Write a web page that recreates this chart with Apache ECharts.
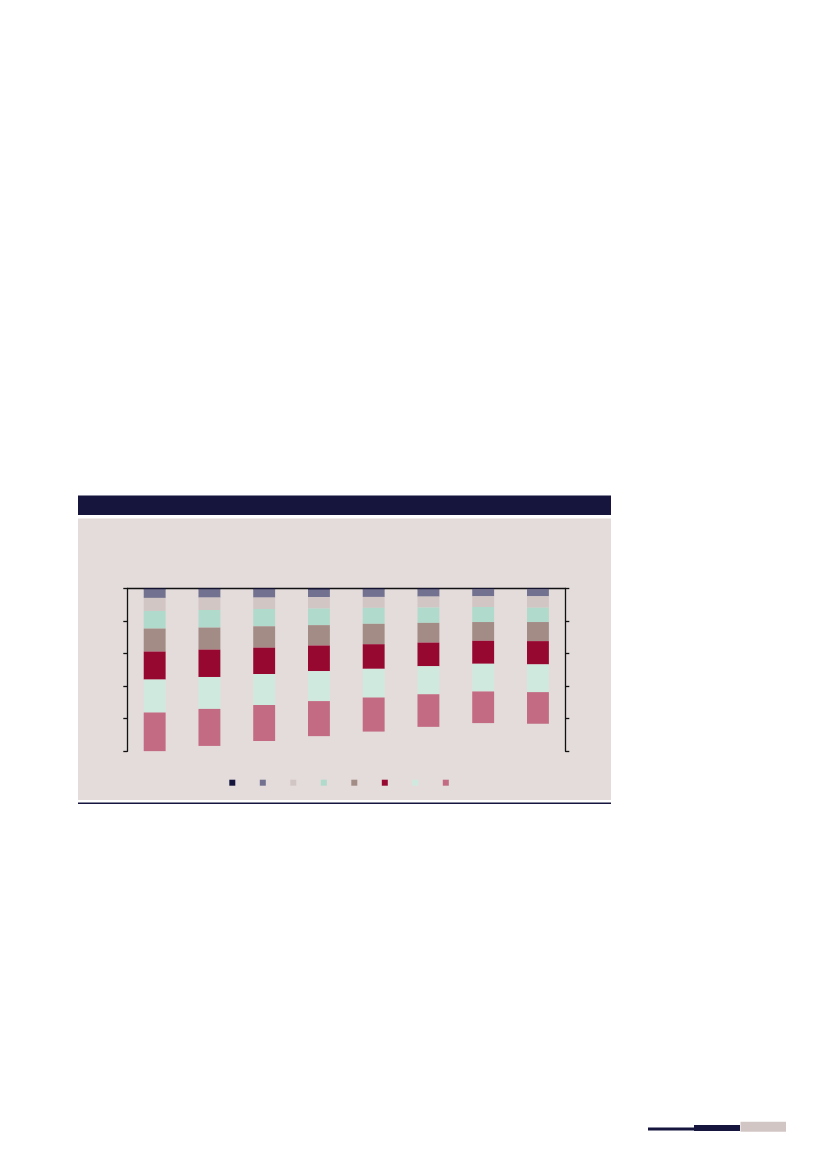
<!DOCTYPE html>
<html>
<head>
<meta charset="utf-8">
<script src="https://cdn.jsdelivr.net/npm/echarts@6/dist/echarts.min.js"></script>
<style>
  html, body { margin: 0; padding: 0; background: #ffffff; }
  #main { width: 827px; height: 1169px; }
</style>
</head>
<body>
<div id="main"></div>
<script>
// categories (no labels are printed in the source)
var categories = ['1', '2', '3', '4', '5', '6', '7', '8'];

// series values, top of bar to bottom (y axis runs downward)
var s1 = [0.8, 0.8, 0.8, 0.9, 0.8, 0.8, 0.7, 0.7];
var s2 = [5.1, 4.9, 4.9, 4.5, 4.5, 4.3, 4.2, 4.2];
var s3 = [8.0, 7.6, 7.0, 7.0, 6.7, 6.7, 6.6, 7.0];
var s4 = [10.8, 10.8, 10.6, 10.2, 9.8, 9.4, 9.2, 8.8];
var s5 = [14.1, 13.5, 13.1, 12.5, 12.5, 12.1, 11.5, 11.7];
var s6 = [17.2, 16.8, 16.2, 15.7, 15.1, 14.5, 14.1, 14.3];
var s7 = [20.2, 19.6, 19.0, 18.4, 17.6, 17.2, 17.0, 17.0];
var s8 = [23.7, 22.7, 22.1, 21.5, 20.9, 20.0, 19.4, 19.4];

var seriesData = [s1, s2, s3, s4, s5, s6, s7, s8];
var seriesNames = ['S1', 'S2', 'S3', 'S4', 'S5', 'S6', 'S7', 'S8'];
var colors = ['#15153d', '#727290', '#d2c6c5', '#b0dacb', '#a48c86', '#960830', '#d0e9df', '#c26b82'];

var chart = echarts.init(document.getElementById('main'));

var series = [];
for (var i = 0; i < seriesData.length; i++) {
  series.push({
    name: seriesNames[i],
    type: 'bar',
    stack: 'total',
    barWidth: '40%',
    data: seriesData[i],
    itemStyle: { color: colors[i] }
  });
}

var yAxisBase = {
  type: 'value',
  inverse: true,
  min: 0,
  max: 100,
  interval: 20,
  axisLine: { show: true, lineStyle: { color: '#111111', width: 1.3 } },
  axisTick: { show: true, inside: false, length: 4, lineStyle: { color: '#111111', width: 1.3 } },
  axisLabel: { show: false },
  splitLine: { show: false }
};

var option = {
  animation: false,
  backgroundColor: '#ffffff',
  color: colors,
  graphic: [
    // header band
    { type: 'rect', z: 0, shape: { x: 78, y: 495.5, width: 533, height: 19.5 }, style: { fill: '#15153d' } },
    // panel
    { type: 'rect', z: 0, shape: { x: 78, y: 518.5, width: 533, height: 281.5 }, style: { fill: '#e3dcdb' } },
    // bottom rule
    { type: 'rect', z: 0, shape: { x: 78, y: 802.5, width: 533, height: 1.4 }, style: { fill: '#15153d' } },
    // page footer marks
    { type: 'rect', z: 0, shape: { x: 648, y: 1127.5, width: 47, height: 3 }, style: { fill: '#15153d' } },
    { type: 'rect', z: 0, shape: { x: 694, y: 1125, width: 46, height: 6 }, style: { fill: '#15153d' } },
    { type: 'rect', z: 0, shape: { x: 740.5, y: 1121.7, width: 45.5, height: 10 }, style: { fill: '#d2c6c5' } }
  ],
  grid: {
    left: 127.3,
    right: 261.7,
    top: 588.3,
    bottom: 417.7,
    containLabel: false
  },
  legend: {
    left: 224.3,
    top: 774.7,
    icon: 'rect',
    itemWidth: 6,
    itemHeight: 6,
    itemGap: 24.5,
    formatter: function () { return ''; },
    textStyle: { fontSize: 1 },
    data: seriesNames
  },
  xAxis: {
    type: 'category',
    position: 'top',
    data: categories,
    axisLine: { show: true, lineStyle: { color: '#111111', width: 1.3 } },
    axisTick: { show: false },
    axisLabel: { show: false }
  },
  yAxis: [
    Object.assign({}, yAxisBase, { position: 'left' }),
    Object.assign({}, yAxisBase, { position: 'right' })
  ],
  series: series
};

chart.setOption(option);
</script>
</body>
</html>
